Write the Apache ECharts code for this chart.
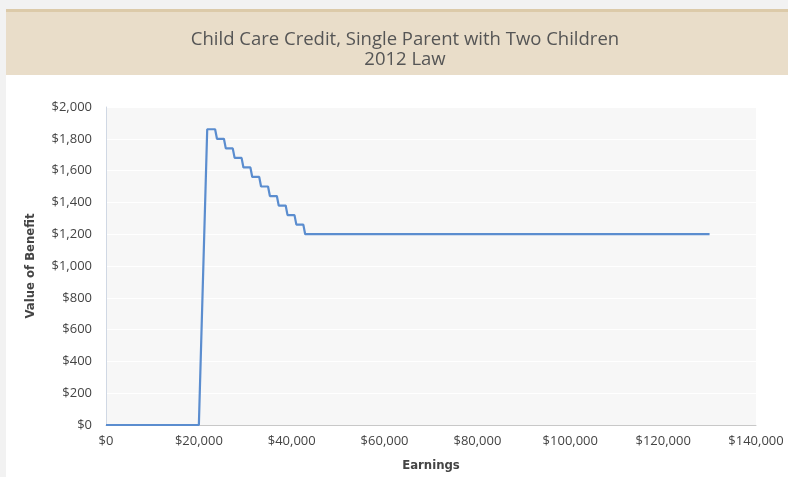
<!DOCTYPE html>
<html>
<head>
<meta charset="utf-8">
<script src="https://cdn.jsdelivr.net/npm/echarts@6/dist/echarts.min.js"></script>
<style>
  html, body { margin: 0; padding: 0; background: #f2f2f2; }
  #chart { width: 788px; height: 477px; }
</style>
</head>
<body>
<div id="chart"></div>
<script>
// earnings ($) at each corner of the benefit curve
var earnings = [0, 20000, 21800, 23500, 23900, 25400, 25800, 27300, 27700, 29200, 29600,
    31100, 31500, 33000, 33400, 34900, 35300, 36800, 37200, 38700, 39100,
    40600, 41000, 42500, 42900, 130000];
var benefit = [0, 0, 1860, 1860, 1800, 1800, 1740, 1740, 1680, 1680, 1620,
    1620, 1560, 1560, 1500, 1500, 1440, 1440, 1380, 1380, 1320,
    1320, 1260, 1260, 1200, 1200];
var titleLines = ['Child Care Credit, Single Parent with Two Children', '2012 Law'];

function money(v) {
    return '$' + v.toString().replace(/\B(?=(\d{3})+(?!\d))/g, ',');
}

var points = [];
earnings.map(function (e, i) {
    points.push([e, benefit[i]]);
});

var chart = echarts.init(document.getElementById('chart'));
var option = {
    backgroundColor: '#ffffff',
    animation: false,
    graphic: [
        { type: 'rect', left: 0, top: 0, shape: { width: 788, height: 9 }, style: { fill: '#f2f2f2' } },
        { type: 'rect', left: 0, top: 9, shape: { width: 6, height: 468 }, style: { fill: '#f2f2f2' } },
        { type: 'rect', left: 6, top: 9, shape: { width: 782, height: 66 }, style: { fill: '#e9ddc9' } },
        { type: 'rect', left: 6, top: 9, shape: { width: 782, height: 3 }, style: { fill: '#dccaa9' } }
    ],
    title: {
        text: titleLines.join('\n'),
        left: 400,
        textAlign: 'center',
        top: 25,
        textStyle: {
            fontFamily: 'Open Sans',
            fontWeight: 'normal',
            fontSize: 18.5,
            lineHeight: 20,
            color: '#555555'
        }
    },
    grid: {
        left: 106,
        right: 32,
        top: 107,
        bottom: 52,
        show: true,
        backgroundColor: '#f7f7f7',
        borderWidth: 0
    },
    xAxis: {
        type: 'value',
        min: 0,
        max: 140000,
        interval: 20000,
        name: 'Earnings',
        nameLocation: 'middle',
        nameGap: 34,
        nameTextStyle: { fontFamily: 'DejaVu Sans Condensed', fontWeight: 'bold', fontSize: 13, color: '#444444' },
        axisLine: { lineStyle: { color: '#c8c8c8' } },
        axisTick: { show: false },
        splitLine: { show: false },
        axisLabel: {
            formatter: money,
            margin: 10,
            fontFamily: 'Open Sans',
            fontSize: 13,
            color: '#444444'
        }
    },
    yAxis: {
        type: 'value',
        min: 0,
        max: 2000,
        interval: 200,
        name: 'Value of Benefit',
        nameLocation: 'middle',
        nameGap: 69,
        nameTextStyle: { fontFamily: 'DejaVu Sans Condensed', fontWeight: 'bold', fontSize: 13, color: '#444444' },
        axisLine: { show: true, lineStyle: { color: '#d0d8e4' } },
        axisTick: { show: false },
        splitLine: { lineStyle: { color: '#ffffff', width: 1 } },
        axisLabel: {
            formatter: money,
            margin: 14,
            fontFamily: 'Open Sans',
            fontSize: 13,
            color: '#444444'
        }
    },
    series: [{
        type: 'line',
        data: points,
        symbol: 'none',
        lineStyle: { color: '#5b8dcf', width: 2.2 }
    }]
};
chart.setOption(option);
</script>
</body>
</html>
